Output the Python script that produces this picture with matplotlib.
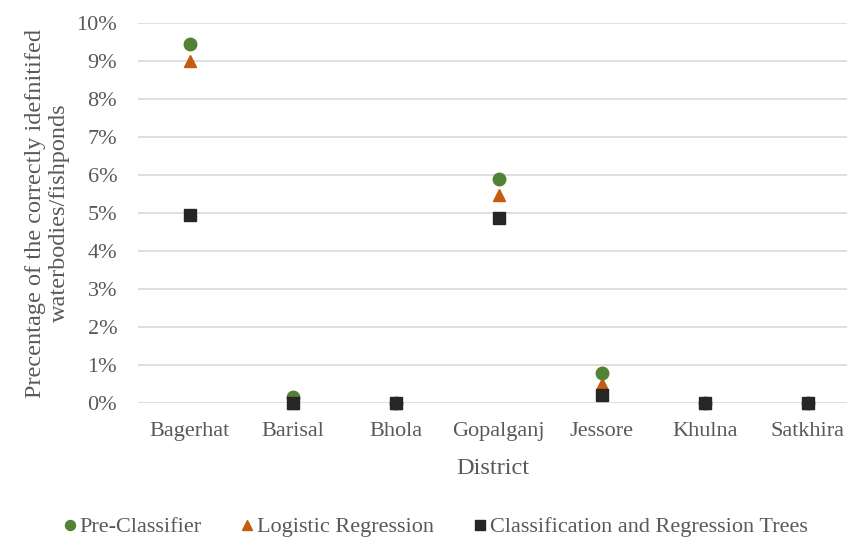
import numpy as np
import matplotlib
matplotlib.use("Agg")
import matplotlib.pyplot as plt
from matplotlib.ticker import PercentFormatter

districts = ["Bagerhat", "Barisal", "Bhola", "Gopalganj", "Jessore", "Khulna", "Satkhira"]
pre_classifier = [9.45, 0.16, 0.0, 5.89, 0.79, 0.0, 0.0]
logistic = [9.01, 0.0, 0.0, 5.47, 0.50, 0.0, 0.0]
cart = [4.94, 0.0, 0.0, 4.87, 0.20, 0.0, 0.0]

plt.rcParams['font.family'] = ['Liberation Serif', 'DejaVu Serif']
grey = '#595959'

fig = plt.figure(figsize=(8.47, 5.42), dpi=100)
ax = fig.add_axes([138/847, 1 - 403/542, 1 - 138/847, 380/542])

x = np.arange(len(districts))
ax.plot(x, logistic, linestyle='none', marker='^', ms=9, color='#c55a11',
        label='Logistic Regression', zorder=3, clip_on=False)
ax.plot(x, pre_classifier, linestyle='none', marker='o', ms=9, color='#548235',
        label='Pre-Classifier', zorder=4, clip_on=False)
ax.plot(x, cart, linestyle='none', marker='s', ms=9, color='#262626',
        label='Classification and Regression Trees', zorder=5, clip_on=False)

ax.set_xlim(-0.5, 6.38)
ax.set_ylim(0, 10)
ax.set_yticks(np.arange(0, 11, 1))
ax.yaxis.set_major_formatter(PercentFormatter(decimals=0))
ax.set_xticks(x)
ax.set_xticklabels(districts)
ax.grid(axis='y', color='#d9d9d9', linewidth=1.2)
ax.set_axisbelow(True)
for s in ax.spines.values():
    s.set_visible(False)
ax.tick_params(length=0, labelsize=16, colors=grey)
ax.tick_params(axis='x', pad=14)
ax.tick_params(axis='y', pad=15)

ax.set_xlabel('District', fontsize=17.5, color=grey, labelpad=12)
ax.set_ylabel('Precentage of the correctly idefnitifed\nwaterbodies/fishponds',
              fontsize=17.5, color=grey, labelpad=5, linespacing=1.15)

handles, labels = ax.get_legend_handles_labels()
order = [1, 0, 2]
leg = fig.legend([handles[i] for i in order], [labels[i] for i in order],
                 loc='center', bbox_to_anchor=(0.514, 1 - 527/542), ncol=3,
                 frameon=False, fontsize=16, markerscale=0.8,
                 handlelength=0.6, handletextpad=0.15, columnspacing=1.75)
for t in leg.get_texts():
    t.set_color(grey)

fig.savefig('out.png', dpi=100)
